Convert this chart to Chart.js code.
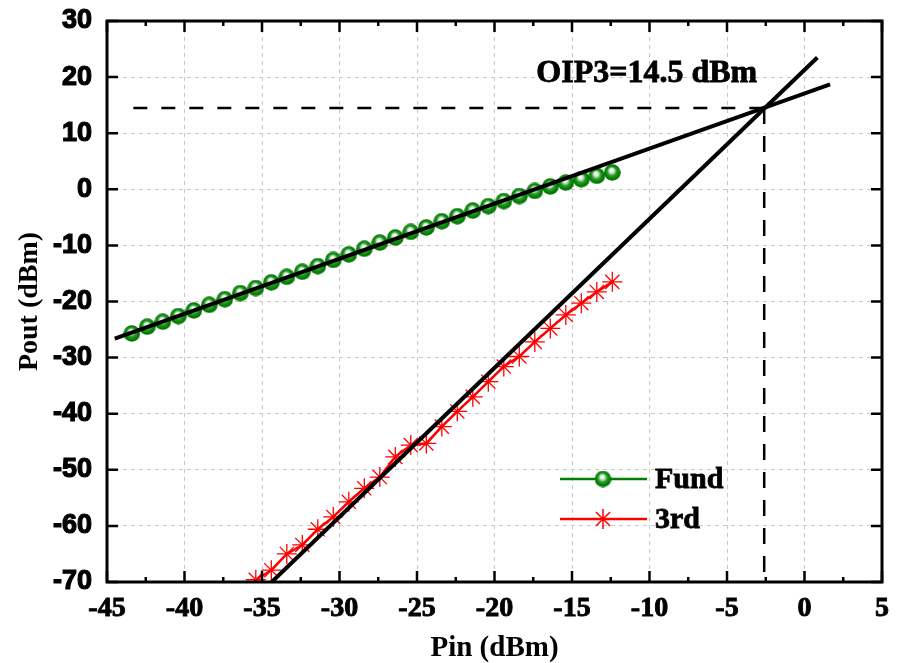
<!DOCTYPE html>
<html>
<head>
<meta charset="utf-8">
<script src="https://cdn.jsdelivr.net/npm/chart.js@4"></script>
<style>
html, body { margin: 0; padding: 0; background: #fff; }
#wrap { width: 901px; height: 663px; }
</style>
</head>
<body>
<div id="wrap"><canvas id="chart" width="901" height="663"></canvas></div>
<script>
// measured points
const fundPin = [-43.4, -42.4, -41.4, -40.4, -39.4, -38.4, -37.4, -36.4, -35.4, -34.4, -33.4, -32.4, -31.4, -30.4, -29.4, -28.4,
                 -27.4, -26.4, -25.4, -24.4, -23.4, -22.4, -21.4, -20.4, -19.4, -18.4, -17.4, -16.4, -15.4, -14.4, -13.4, -12.4];
const fundOut = [-25.7, -24.5, -23.6, -22.6, -21.6, -20.6, -19.6, -18.5, -17.6, -16.6, -15.6, -14.7, -13.7, -12.6, -11.6, -10.6,
                 -9.5, -8.6, -7.6, -6.8, -5.7, -4.8, -3.8, -3.0, -2.1, -1.2, -0.3, 0.5, 1.2, 1.8, 2.4, 3.0];
const thirdPin = [-35.4, -34.4, -33.4, -32.4, -31.4, -30.4, -29.4, -28.4, -27.4, -26.4, -25.4, -24.4,
                  -23.4, -22.4, -21.4, -20.4, -19.4, -18.4, -17.4, -16.4, -15.4, -14.4, -13.4, -12.4];
const thirdOut = [-69.6, -67.9, -65.0, -63.4, -60.6, -58.4, -55.7, -53.3, -51.3, -47.7, -45.6, -45.3,
                  -42.3, -39.6, -37.0, -34.3, -31.6, -29.8, -27.2, -24.8, -22.4, -20.3, -18.3, -16.5];

// extrapolated fit lines (end points)
const fundFitPin = [-44.5, 1.65];
const fundFitOut = [-26.6, 18.7];
const thirdFitPin = [-34.37, 0.83];
const thirdFitOut = [-70, 23.5];

// intercept point
const oip3Pin = -2.6;
const oip3Out = 14.5;
const guideStartPin = -43.3;
const guideBottomOut = -70;

const xTicks = [-45, -40, -35, -30, -25, -20, -15, -10, -5, 0, 5];
const yTicks = [-70, -60, -50, -40, -30, -20, -10, 0, 10, 20, 30];
const legendLabels = ['Fund', '3rd'];
const oip3Label = 'OIP3=14.5 dBm';

const SERIF = '"Liberation Serif", "Times New Roman", serif';
const SANS = '"Liberation Sans", Arial, sans-serif';

const toPoints = (xs, ys) => xs.map((x, i) => ({ x: x, y: ys[i] }));

// shaded green ball for the Fund markers
function makeBall(size) {
    const c = document.createElement('canvas');
    c.width = size;
    c.height = size;
    const g = c.getContext('2d');
    const r = size / 2;
    const grad = g.createRadialGradient(r * 0.9, r * 0.72, 0.5, r, r, r);
    grad.addColorStop(0, '#ffffff');
    grad.addColorStop(0.25, '#c6e6c6');
    grad.addColorStop(0.5, '#2a9a2a');
    grad.addColorStop(0.8, '#008000');
    grad.addColorStop(1, '#006400');
    g.fillStyle = grad;
    g.beginPath();
    g.arc(r, r, r - 0.2, 0, Math.PI * 2);
    g.fill();
    return c;
}
const ball = makeBall(17);

function heavyText(ctx, text, x, y) {
    ctx.fillText(text, x, y);
    ctx.strokeText(text, x, y);
}

const frameTicks = {
    id: 'frameTicks',
    afterDatasetsDraw(chart) {
        const { ctx, chartArea: a, scales: { x, y } } = chart;
        ctx.save();
        ctx.strokeStyle = '#000';
        ctx.setLineDash([]);
        ctx.lineWidth = 2.5;
        ctx.beginPath();
        xTicks.forEach(v => {
            const px = x.getPixelForValue(v);
            ctx.moveTo(px, a.bottom); ctx.lineTo(px, a.bottom - 11);
            ctx.moveTo(px, a.top); ctx.lineTo(px, a.top + 11);
            const mx = x.getPixelForValue(v + 2.5);
            if (v + 2.5 < 5) {
                ctx.moveTo(mx, a.bottom); ctx.lineTo(mx, a.bottom - 5);
                ctx.moveTo(mx, a.top); ctx.lineTo(mx, a.top + 5);
            }
        });
        yTicks.forEach(v => {
            const py = y.getPixelForValue(v);
            ctx.moveTo(a.left, py); ctx.lineTo(a.left + 11, py);
            ctx.moveTo(a.right, py); ctx.lineTo(a.right - 11, py);
        });
        ctx.stroke();
        ctx.lineWidth = 3;
        ctx.strokeRect(a.left, a.top, a.right - a.left, a.bottom - a.top);

        // annotation
        ctx.fillStyle = '#000';
        ctx.lineWidth = 0.8;
        ctx.font = 'bold 32px ' + SERIF;
        ctx.textAlign = 'left';
        ctx.textBaseline = 'middle';
        heavyText(ctx, oip3Label, x.getPixelForValue(-17.3), y.getPixelForValue(20.6));

        // legend
        const lx = 560, ly = [479, 519];
        ctx.lineWidth = 2.5;
        ctx.strokeStyle = '#008000';
        ctx.beginPath(); ctx.moveTo(lx, ly[0]); ctx.lineTo(lx + 87, ly[0]); ctx.stroke();
        ctx.drawImage(ball, lx + 43 - 8.5, ly[0] - 8.5, 17, 17);
        ctx.strokeStyle = '#ff0000';
        ctx.beginPath(); ctx.moveTo(lx, ly[1]); ctx.lineTo(lx + 87, ly[1]); ctx.stroke();
        ctx.lineWidth = 1.5;
        ctx.beginPath();
        for (let k = 0; k < 4; k++) {
            const ang = k * Math.PI / 4;
            ctx.moveTo(lx + 43 - 10 * Math.cos(ang), ly[1] - 10 * Math.sin(ang));
            ctx.lineTo(lx + 43 + 10 * Math.cos(ang), ly[1] + 10 * Math.sin(ang));
        }
        ctx.stroke();
        ctx.strokeStyle = '#000';
        ctx.lineWidth = 0.8;
        ctx.font = 'bold 30px ' + SERIF;
        heavyText(ctx, legendLabels[0], lx + 95, ly[0] + 1);
        heavyText(ctx, legendLabels[1], lx + 95, ly[1] + 1);
        ctx.restore();
    }
};

const ctx = document.getElementById('chart').getContext('2d');

new Chart(ctx, {
    type: 'line',
    data: {
        datasets: [
            {
                label: 'fund fit',
                data: toPoints(fundFitPin, fundFitOut),
                borderColor: '#000', borderWidth: 4, pointRadius: 0, order: 0
            },
            {
                label: '3rd fit',
                data: toPoints(thirdFitPin, thirdFitOut),
                borderColor: '#000', borderWidth: 4, pointRadius: 0, order: 0
            },
            {
                label: 'h guide',
                data: toPoints([guideStartPin, oip3Pin], [oip3Out, oip3Out]),
                borderColor: '#000', borderWidth: 2.5, borderDash: [14, 14], pointRadius: 0, order: 1
            },
            {
                label: 'v guide',
                data: toPoints([oip3Pin, oip3Pin], [oip3Out, guideBottomOut]),
                borderColor: '#000', borderWidth: 2.5, borderDash: [16, 12], pointRadius: 0, order: 1
            },
            {
                label: legendLabels[0],
                data: toPoints(fundPin, fundOut),
                borderColor: '#008000', borderWidth: 2,
                pointStyle: ball, pointRadius: 8.5, order: 2
            },
            {
                label: legendLabels[1],
                data: toPoints(thirdPin, thirdOut),
                borderColor: '#ff0000', borderWidth: 2.5,
                pointStyle: 'star', pointRadius: 10, pointBorderWidth: 1.3,
                pointBorderColor: '#ff0000', order: 2
            }
        ]
    },
    options: {
        responsive: false,
        animation: false,
        layout: { padding: { top: 21, right: 19, left: 0, bottom: 0 } },
        plugins: {
            legend: { display: false },
            tooltip: { enabled: false }
        },
        scales: {
            x: {
                type: 'linear',
                min: -45, max: 5,
                afterFit: s => { s.height = 81; s.paddingLeft = 0; s.paddingRight = 0; },
                afterBuildTicks: s => { s.ticks = xTicks.map(v => ({ value: v })); },
                grid: { color: '#c8c8c8', lineWidth: 1, drawTicks: false },
                border: { display: false, dash: [4, 4] },
                ticks: {
                    padding: 10,
                    color: '#000',
                    textStrokeColor: '#000',
                    textStrokeWidth: 0.9,
                    font: { family: SERIF, size: 28, weight: 'bold' }
                },
                title: {
                    display: true,
                    text: 'Pin (dBm)',
                    color: '#000',
                    padding: { top: 0, bottom: 0 },
                    font: { family: SERIF, size: 29, weight: 'bold', lineHeight: 1 }
                }
            },
            y: {
                min: -70, max: 30,
                afterFit: s => { s.width = 107; s.paddingTop = 0; s.paddingBottom = 0; },
                afterBuildTicks: s => { s.ticks = yTicks.map(v => ({ value: v })); },
                grid: { color: '#c8c8c8', lineWidth: 1, drawTicks: false },
                border: { display: false, dash: [4, 4] },
                ticks: {
                    padding: 15,
                    color: '#000',
                    textStrokeColor: '#000',
                    textStrokeWidth: 1.2,
                    font: { family: SANS, size: 27, weight: 'bold' }
                },
                title: {
                    display: true,
                    text: 'Pout (dBm)',
                    color: '#000',
                    padding: { top: 16, bottom: 0 },
                    font: { family: SERIF, size: 28, weight: 'bold', lineHeight: 1 }
                }
            }
        }
    },
    plugins: [frameTicks]
});
</script>
</body>
</html>
